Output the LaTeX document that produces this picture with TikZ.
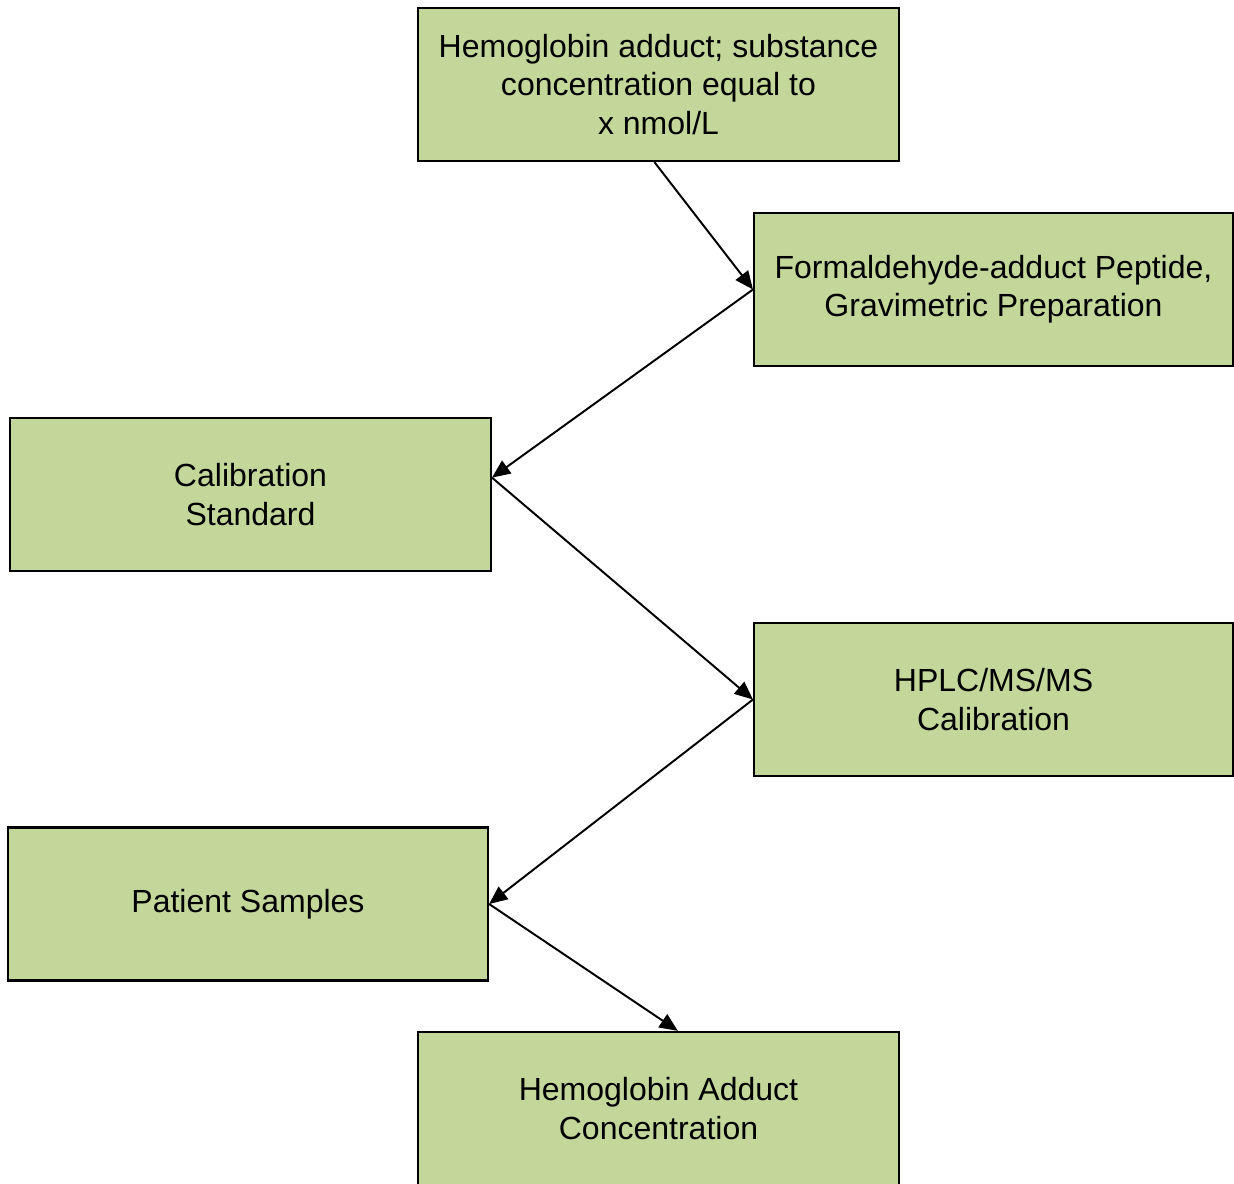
\documentclass[tikz,border=0pt]{standalone}
\usepackage{fontspec}
\setmainfont{Liberation Sans}
\usetikzlibrary{arrows.meta,positioning,calc}
\definecolor{olive}{HTML}{C4D79B}

\begin{document}
\begin{tikzpicture}[x=0.0135cm,y=-0.0135cm,
 box/.style={draw=black,fill=olive,line width=0.9pt,align=center,font=\fontsize{12.3}{14.7}\selectfont,minimum height=2.065cm,minimum width=6.49cm,inner sep=0pt},
 arr/.style={-{Triangle[length=7pt,width=6pt]},draw=black,line width=0.75pt}]
\useasboundingbox (0,0) rectangle (1234,1184);
\node[box] (hb) at (658.5,84.5) {Hemoglobin adduct; substance\\concentration equal to\\x nmol/L};
\node[box,minimum width=6.465cm] (form) at (993.5,289.5) {Formaldehyde-adduct Peptide,\\Gravimetric Preparation};
\node[box] (calib) at (250.5,494.5) {Calibration\\Standard};
\node[box,minimum width=6.465cm] (hplc) at (993.5,699.5) {HPLC/MS/MS\\Calibration};
\node[box,minimum width=6.48cm] (pat) at (248,904) {Patient Samples};
\node[box] (conc) at (658.5,1108.5) {Hemoglobin Adduct\\Concentration};
\draw[arr] (hb.267)--(form.west);\draw[arr] (form.west)--(calib.4);
\draw[arr] (calib.4)--(hplc.west);\draw[arr] (hplc.west)--(pat.east);
\draw[arr] (pat.east)--(conc.76);
\end{tikzpicture}
\end{document}
